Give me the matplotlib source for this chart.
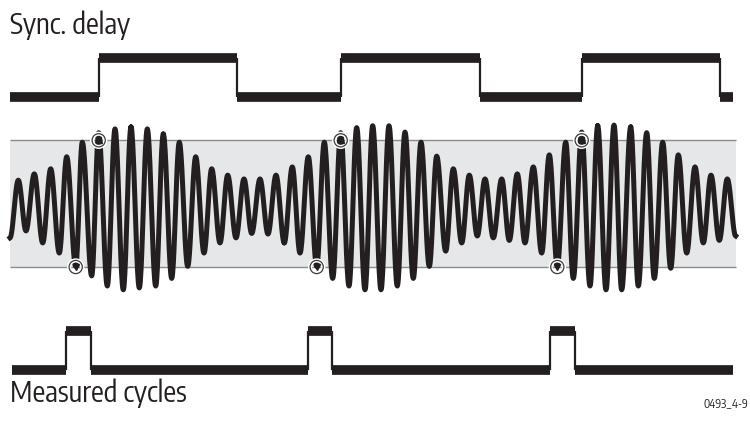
import numpy as np
import matplotlib
matplotlib.use("Agg")
import matplotlib.pyplot as plt
import matplotlib.patheffects as pe
from matplotlib import font_manager as fm

# ---------------- data ----------------
sync_edges = [10, 98.7, 236.7, 340.5, 480, 582, 720, 733]
sync_start_level = 0

meas_edges = [11.7, 66, 90.5, 308, 332, 549.5, 574.5, 733]
meas_start_level = 0

wave_t = [10, 18.3, 26, 34.3, 42.7, 50.7, 59.3, 66.7, 75.7, 82.3,
          91.7, 98.7, 107.3, 115, 123.3, 131, 139.3, 147.3, 155.7, 163.3,
          171.7, 179.3, 187.7, 195.7, 204, 211.7, 220, 227.7, 236, 244,
          251.7, 260, 268, 276, 284.3, 292.3, 300, 308.3, 316.7, 324.3,
          332.7, 340.7, 349, 356.7, 365, 372.7, 381, 389, 397.3, 405,
          413.3, 421, 429.3, 436.7, 445.7, 453.3, 461.7, 469.3, 477.3, 485,
          493.3, 501.7, 509.3, 517.3, 525, 533.3, 541.7, 549.3, 557.3, 565.7,
          573.3, 581.7, 590, 597.7, 606, 614, 621.7, 630.7, 638.3, 646.7,
          654.3, 662.7, 670.7, 678.3, 686.7, 695, 703.3, 711, 719.3, 727.3,
          735.7]
wave_v = [-0.54, 0.37, -0.43, 0.47, -0.62, 0.55, -0.78, 0.74, -0.99, 0.97,
          -1.14, 1.12, -1.30, 1.18, -1.36, 1.21, -1.33, 1.18, -1.30, 1.10,
          -1.18, 0.97, -0.99, 0.74, -0.78, 0.55, -0.62, 0.45, -0.54, 0.39,
          -0.47, 0.39, -0.48, 0.45, -0.62, 0.58, -0.78, 0.74, -0.99, 0.97,
          -1.18, 1.12, -1.30, 1.20, -1.36, 1.23, -1.36, 1.23, -1.30, 1.13,
          -1.18, 0.97, -0.99, 0.75, -0.75, 0.55, -0.62, 0.45, -0.51, 0.39,
          -0.54, 0.39, -0.58, 0.47, -0.62, 0.58, -0.78, 0.77, -0.99, 0.97,
          -1.18, 1.13, -1.30, 1.23, -1.36, 1.24, -1.36, 1.21, -1.30, 1.12,
          -1.18, 0.97, -1.02, 0.77, -0.78, 0.58, -0.62, 0.45, -0.58, 0.39,
          -0.51]

upper_level = 1.0
lower_level = -1.0
band_span = [10, 735.7]

upper_marks_t = [98.7, 340.7, 581.7]
lower_marks_t = [75.7, 316.7, 557.3]

title_top = "Sync. delay"
title_bottom = "Measured cycles"
fig_id = "0493_4-9"

# ---------------- drawing ----------------
W, H = 750, 428
fig = plt.figure(figsize=(W / 100, H / 100), dpi=100)
fig.patch.set_facecolor("white")
INK = "#231f20"

narrow = None
for f in fm.fontManager.ttflist:
    n = f.name.lower()
    if ("narrow" in n or "condensed" in n) and "sans" in n and f.style == "normal" \
            and f.weight in (400, "normal", "regular"):
        narrow = f.name
        break
if narrow is None:
    for f in fm.fontManager.ttflist:
        if str(f.stretch).lower() in ("condensed", "semi-condensed") and f.style == "normal":
            narrow = f.name
            break
FONT = ([narrow] if narrow else []) + ["Liberation Sans", "DejaVu Sans"]


def axes_rows(top_px, bottom_px):
    return fig.add_axes([0, 1 - bottom_px / H, 1, (bottom_px - top_px) / H])


def logic_trace(ax, edges, start):
    level = start
    for i in range(len(edges) - 1):
        ax.plot([edges[i], edges[i + 1]], [level, level], color=INK,
                lw=7.0, solid_capstyle="butt")
        if i + 1 < len(edges) - 1:
            ax.plot([edges[i + 1], edges[i + 1]], [0, 1], color=INK,
                    lw=1.6, solid_capstyle="butt")
            level = 1 - level


ax_s = axes_rows(38.5, 116.5)
ax_s.set_ylim(-0.5, 1.5)
logic_trace(ax_s, sync_edges, sync_start_level)

ax_m = axes_rows(311, 389)
ax_m.set_ylim(-0.5, 1.5)
logic_trace(ax_m, meas_edges, meas_start_level)

scale = (267 - 140.3) / 2
center = (267 + 140.3) / 2
ax_w = axes_rows(center - 1.6 * scale, center + 1.6 * scale)
ax_w.set_ylim(-1.6, 1.6)

ax_w.fill_between(band_span, lower_level, upper_level, color="#e6e7e8", lw=0, zorder=0)
ax_w.hlines([upper_level, lower_level], band_span[0], band_span[1],
            color="#8c8c8c", lw=1.0, zorder=1)

tt, vv = [], []
s = np.linspace(0, 1, 24)
for i in range(len(wave_t) - 1):
    t0, t1 = wave_t[i], wave_t[i + 1]
    v0, v1 = wave_v[i], wave_v[i + 1]
    tt.append(t0 + (t1 - t0) * s)
    vv.append(v0 + (v1 - v0) * (1 - np.cos(np.pi * s)) / 2)
ax_w.plot(np.concatenate(tt), np.concatenate(vv), color=INK, lw=3.6,
          solid_joinstyle="round", zorder=2)

halo = [pe.withStroke(linewidth=3, foreground="white")]
ax_w.plot(upper_marks_t, [upper_level] * 3, "o", ms=9.5, mfc="none",
          mec="#3a3a3a", mew=0.9, zorder=4, path_effects=halo)
ax_w.plot(lower_marks_t, [lower_level] * 3, "o", ms=9.5, mfc="none",
          mec="#3a3a3a", mew=0.9, zorder=4, path_effects=halo)
ax_w.plot(upper_marks_t, [upper_level] * 3, "^", ms=4.5, color=INK, zorder=5)
ax_w.plot(lower_marks_t, [lower_level] * 3, "v", ms=4.5, color=INK, zorder=5)

for ax in (ax_s, ax_m, ax_w):
    ax.set_xlim(0, W)
    ax.axis("off")
    ax.patch.set_alpha(0)

t1 = fig.text(10 / W, 1 - 34 / H, title_top, fontsize=20.5, family=FONT,
              color=INK, ha="left", va="baseline")
t2 = fig.text(10 / W, 1 - 402 / H, title_bottom, fontsize=20.5, family=FONT,
              color=INK, ha="left", va="baseline")
t3 = fig.text(748 / W, 1 - 407 / H, fig_id, fontsize=8, family=FONT,
              color=INK, ha="right", va="baseline")

# fit the small id label width to the reference
r = fig.canvas.get_renderer()
w = t3.get_window_extent(r).width
t3.set_fontsize(min(t3.get_fontsize() * 45 / w, 8.5))

fig.savefig("out.png", dpi=100, facecolor="white")
